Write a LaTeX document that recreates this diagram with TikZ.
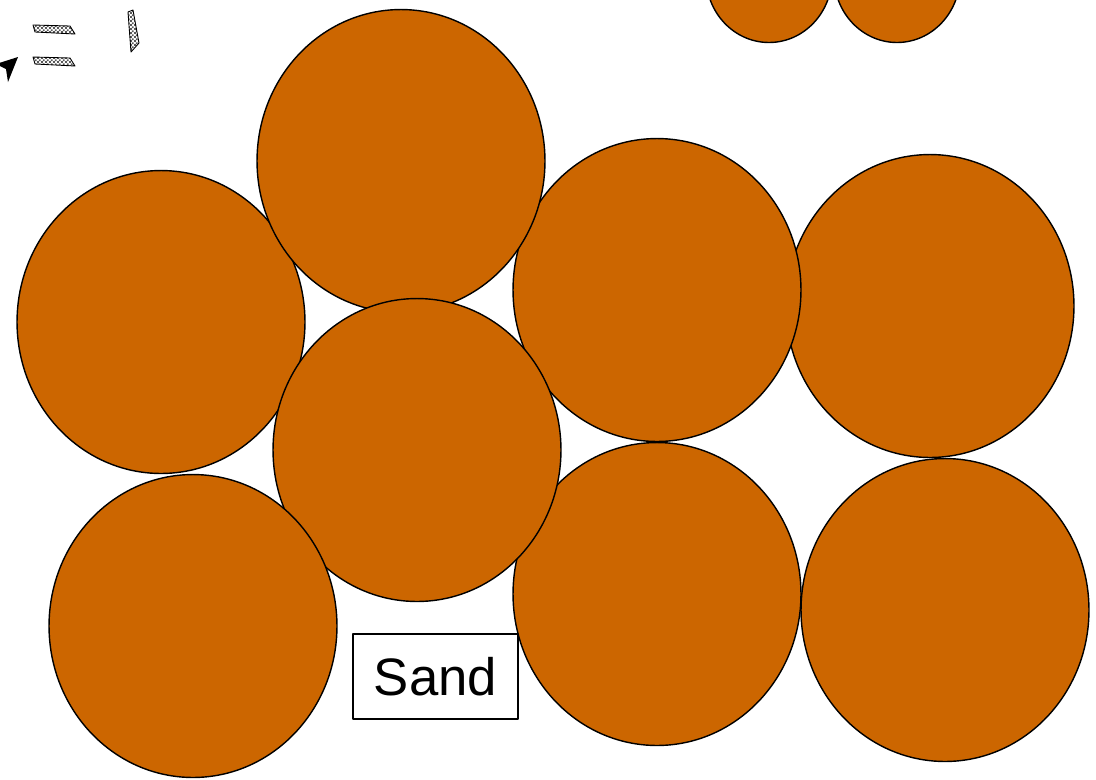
\documentclass[tikz,border=0pt]{standalone}
\usepackage{fontspec}
\setmainfont{Liberation Sans}
\usetikzlibrary{shapes.geometric,patterns}
\definecolor{grainfill}{HTML}{CC6600}
\pgfdeclarepatternformonly{fine checker}{\pgfqpoint{0pt}{0pt}}{\pgfqpoint{2.4pt}{2.4pt}}{\pgfqpoint{2.4pt}{2.4pt}}{%
  \pgfpathrectangle{\pgfqpoint{0pt}{0pt}}{\pgfqpoint{1.2pt}{1.2pt}}%
  \pgfpathrectangle{\pgfqpoint{1.2pt}{1.2pt}}{\pgfqpoint{1.2pt}{1.2pt}}%
  \pgfusepath{fill}}
\begin{document}
\begin{tikzpicture}[x=0.02cm, y=-0.02cm, line join=round]
        \tikzset{grain/.style={ellipse, draw, line width=0.8pt, fill=grainfill, inner sep=0pt, minimum width=5.76cm, minimum height=6.06cm},
                 small grain/.style={grain, minimum width=2.52cm, minimum height=2.66cm},
                 chip/.style={draw, line width=0.5pt, pattern=fine checker, pattern color=black!65},
                 label box/.style={draw, fill=white, line width=0.6pt, inner sep=0pt, minimum width=3.3cm, minimum height=1.7cm, font=\fontsize{30}{34}\selectfont}}
        \clip (0,0) rectangle (1096,779);

        % grains, back to front
        \node[grain] (grainH) at (945,610) {};
        \node[grain] (grainE) at (930,306) {};
        \node[grain] (grainG) at (657,594) {};
        \node[grain] (grainD) at (657,290) {};
        \node[grain] (grainB) at (161,322) {};
        \node[grain] (grainA) at (401,161) {};
        \node[grain] (grainC) at (417,450) {};
        \node[grain] (grainF) at (193,626) {};
        \node[small grain] (grainI) at (769,-24) {};
        \node[small grain] (grainJ) at (897,-24) {};

        \node[label box] (sand) at (435.5,676.5) {Sand};

        % loose bits, top left
        \fill (18,57) -- (-4,64) -- (6,69) -- (8,82) -- cycle;
        \draw[chip] (33,25) -- (70,26) -- (75,34) -- (35,32) -- cycle;
        \draw[chip] (33,57) -- (70,58) -- (75,66) -- (35,64) -- cycle;
        \draw[chip] (128,12) -- (133,10) -- (139,43) -- (131,52) -- cycle;
\end{tikzpicture}
\end{document}
